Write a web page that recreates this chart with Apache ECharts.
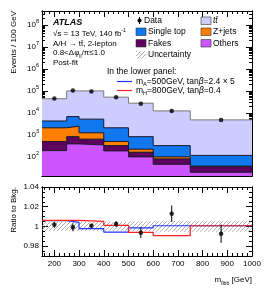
<!DOCTYPE html>
<html><head><meta charset="utf-8">
<script src="https://cdn.jsdelivr.net/npm/echarts@6/dist/echarts.min.js"></script>
<style>html,body{margin:0;padding:0;background:#fff}#c{width:266px;height:291px}</style>
</head><body><div id="c"></div>
<script>
// ---- data ----
const binEdges = [150, 250, 300, 400, 500, 600, 750, 1000];
const ttbar     = [39700, 93200, 94800, 49900, 26800, 12000, 4690];
const singleTop = [2200, 4300, 3950, 1600, 606, 225, 79];
const zjets     = [1600, 1670, 610, 175, 61, 19, 2];
const fakes     = [307, 440, 290, 138, 63, 35, 16];
const others    = [193, 390, 350, 187, 100, 46, 20];
const dataX     = [200, 275, 350, 450, 550, 675, 875];
const dataVals  = [45000, 105000, 95000, 52000, 26000, 12300, 4800];
const ratioData = [1.0017, 0.9991, 1.0007, 1.0024, 0.9936, 1.0129, 0.9926];
const ratioErr  = [0.003, 0.004, 0.002, 0.003, 0.0054, 0.0084, 0.0093];
const uncHalf   = [0.0045, 0.0045, 0.0045, 0.0045, 0.005, 0.0055, 0.0055];
const sigA500   = [1.0058, 1.0042, 0.9977, 0.9943, 0.9985, 1.0007, 1.0007];
const sigH800   = [1.0062, 1.0062, 1.0052, 1.0011, 0.994, 0.9906, 1.0007];
const xMajor = [200, 300, 400, 500, 600, 700, 800, 900, 1000];
const yLogMajor = [1e2, 1e3, 1e4, 1e5, 1e6, 1e7, 1e8];
const ratioMajor = [0.98, 1.0, 1.02, 1.04];

// ---- helpers ----
const FONT = '"Liberation Sans", Arial, "DejaVu Sans", sans-serif';
const xMinor = []; for (let v = 160; v < 1000; v += 20) if (v % 100 !== 0) xMinor.push(v);
const yLogMinor = []; for (let e = 1; e <= 8; e++) for (let m = 2; m <= 9; m++) yLogMinor.push(m * Math.pow(10, e));
const rMinor = []; for (let k = 0; k <= 14; k++) { const v = +(0.97 + k * 0.005).toFixed(3); if (!ratioMajor.some(t => Math.abs(t - v) < 1e-9)) rMinor.push(v); }

function stepData(vals) { return binEdges.map((e, i) => [e, vals[Math.min(i, vals.length - 1)]]); }
function hatchCanvas() {
  const c = document.createElement('canvas'); c.width = 4; c.height = 4;
  const g = c.getContext('2d'); g.strokeStyle = '#8a8a8a'; g.lineWidth = 0.7;
  g.beginPath(); g.moveTo(0, 4); g.lineTo(4, 0); g.moveTo(-1, 1); g.lineTo(1, -1); g.moveTo(3, 5); g.lineTo(5, 3); g.stroke();
  return c;
}
const hatchFill = { image: hatchCanvas(), repeat: 'repeat' };

function xAx(gi, pos, vals, len, labels) {
  return {
    gridIndex: gi, type: 'value', position: pos, min: 150, max: 1000,
    axisLine: { show: true, onZero: false, lineStyle: { color: '#000', width: 1 } },
    splitLine: { show: false },
    axisTick: { show: true, inside: true, length: len, customValues: vals, lineStyle: { color: '#000', width: 1 } },
    axisLabel: labels ? { show: true, customValues: xMajor, color: '#000', fontSize: 8, margin: 4, fontFamily: FONT,
      formatter: v => String(Math.round(v)) } : { show: false }
  };
}
function yLog(pos, vals, len, labels) {
  return {
    gridIndex: 0, type: 'log', logBase: 10, position: pos, min: 13.5, max: 4.3e8,
    axisLine: { show: true, onZero: false, lineStyle: { color: '#000', width: 1 } },
    splitLine: { show: false }, minorSplitLine: { show: false },
    axisTick: { show: true, inside: true, length: len, customValues: vals, lineStyle: { color: '#000', width: 1 } },
    axisLabel: labels ? {
      show: true, customValues: yLogMajor, margin: 3, color: '#000', fontFamily: FONT,
      formatter: v => '{b|10}{s|' + Math.round(Math.log10(v)) + '}',
      rich: { b: { fontSize: 8, fontFamily: FONT, color: '#000', lineHeight: 12 }, s: { fontSize: 5.5, fontFamily: FONT, color: '#000', verticalAlign: 'top', lineHeight: 7 } }
    } : { show: false }
  };
}
function yRat(pos, vals, len, labels) {
  return {
    gridIndex: 1, type: 'value', position: pos, min: 0.97, max: 1.04,
    axisLine: { show: true, onZero: false, lineStyle: { color: '#000', width: 1 } },
    splitLine: { show: false },
    axisTick: { show: true, inside: true, length: len, customValues: vals, lineStyle: { color: '#000', width: 1 } },
    axisLabel: labels ? { show: true, customValues: ratioMajor, margin: 3, color: '#000', fontSize: 8, fontFamily: FONT,
      formatter: v => Math.abs(v - 1) < 1e-9 ? '1' : v.toFixed(2) } : { show: false }
  };
}

// cumulative stack (drawn top-down)
const comps = [
  { vals: others, color: '#cc55ff' },
  { vals: fakes, color: '#5e005e' },
  { vals: zjets, color: '#ff7f00' },
  { vals: singleTop, color: '#1177ee' },
  { vals: ttbar, color: '#ccccff' }
];
let run = new Array(binEdges.length - 1).fill(0);
const cums = comps.map(c => { run = run.map((r, i) => r + c.vals[i]); return run.slice(); });
const stackSeries = [];
for (let k = comps.length - 1; k >= 0; k--) {
  stackSeries.push({
    type: 'line', xAxisIndex: 0, yAxisIndex: 0, step: 'end', symbol: 'none', silent: true,
    data: stepData(cums[k]), z: 10 + (comps.length - k),
    lineStyle: { color: k === comps.length - 1 ? '#777' : '#1a1a2a', width: 1 },
    areaStyle: { color: comps[k].color, opacity: 1, origin: 'start' }
  });
}

const series = stackSeries.concat([
  { type: 'scatter', xAxisIndex: 0, yAxisIndex: 0, data: dataX.map((x, i) => [x, dataVals[i]]), symbolSize: 4.5, itemStyle: { color: '#000' }, z: 30 },
  { type: 'custom', xAxisIndex: 4, yAxisIndex: 4, z: 5, silent: true,
    data: uncHalf.map((h, i) => [binEdges[i], binEdges[i + 1], h]),
    renderItem: (p, api) => {
      const a = api.coord([api.value(0), 1 + api.value(2)]);
      const b = api.coord([api.value(1), 1 - api.value(2)]);
      return { type: 'rect', shape: { x: a[0], y: a[1], width: b[0] - a[0], height: b[1] - a[1] }, style: { fill: hatchFill } };
    } },
  { type: 'line', xAxisIndex: 4, yAxisIndex: 4, step: 'end', symbol: 'none', data: stepData(sigA500), lineStyle: { color: '#2035ff', width: 1.2 }, z: 10 },
  { type: 'line', xAxisIndex: 4, yAxisIndex: 4, step: 'end', symbol: 'none', data: stepData(sigH800), lineStyle: { color: '#ff2020', width: 1.2 }, z: 11 },
  { type: 'custom', xAxisIndex: 4, yAxisIndex: 4, z: 20, silent: true,
    data: dataX.map((x, i) => [x, ratioData[i], ratioErr[i]]),
    renderItem: (p, api) => {
      const a = api.coord([api.value(0), api.value(1) + api.value(2)]);
      const b = api.coord([api.value(0), api.value(1) - api.value(2)]);
      return { type: 'line', shape: { x1: a[0], y1: a[1], x2: b[0], y2: b[1] }, style: { stroke: '#000', lineWidth: 1 } };
    } },
  { type: 'scatter', xAxisIndex: 4, yAxisIndex: 4, data: dataX.map((x, i) => [x, ratioData[i]]), symbolSize: 4.5, itemStyle: { color: '#000' }, z: 30 }
]);

const T = (x, y, text, size, extra) => Object.assign({ type: 'text', x: x, y: y, z: 100,
  style: Object.assign({ text: text, fontSize: size, fontFamily: FONT, fill: '#000', verticalAlign: 'middle', align: 'left' }, extra || {}) });
const richBase = (size) => ({
  n: { fontSize: size, fontFamily: FONT, color: '#000', lineHeight: 12 },
  i: { fontSize: size, fontFamily: FONT, fontStyle: 'italic', color: '#000', lineHeight: 12 },
  sub: { fontSize: size * 0.65, fontFamily: FONT, color: '#000', verticalAlign: 'bottom', lineHeight: 8 },
  sup: { fontSize: size * 0.65, fontFamily: FONT, color: '#000', verticalAlign: 'top', lineHeight: 8 }
});
const sw = (x, y, color, fill) => ({ type: 'rect', z: 100, shape: { x: x, y: y, width: 10, height: 7.5 }, style: { fill: fill || color, stroke: '#333', lineWidth: 0.6 } });

const graphic = [
  T(53, 23, 'ATLAS', 9, { fontWeight: 'bold', fontStyle: 'italic' }),
  T(53, 34, '{n|√s = 13 TeV, 140 fb}{sup|-1}', 8, { rich: richBase(8) }),
  T(53, 44, '{n|A/H → tt̄, 2-lepton}', 8, { rich: richBase(8) }),
  T(53, 53, '{n|0.8<Δφ}{sub|ll}{n|/π≤1.0}', 8, { rich: richBase(8) }),
  T(53, 63, 'Post-fit', 8),
  // legend col 1
  { type: 'circle', z: 100, shape: { cx: 139.5, cy: 20.5, r: 2 }, style: { fill: '#000' } },
  { type: 'line', z: 100, shape: { x1: 139.5, y1: 17, x2: 139.5, y2: 24 }, style: { stroke: '#000', lineWidth: 1 } },
  T(144, 20.5, 'Data', 8.5),
  sw(136, 28, '#1177ee'), T(148, 32, 'Single top', 8.5),
  sw(136, 39.5, '#5e005e'), T(148, 43.5, 'Fakes', 8.5),
  { type: 'rect', z: 100, shape: { x: 136, y: 51, width: 10, height: 7.5 }, style: { fill: hatchFill } },
  T(148, 55, 'Uncertainty', 8.5),
  // legend col 2
  sw(201, 17, '#ccccff'), T(213, 20.5, 'tt̄', 8.5, { fontStyle: 'italic' }),
  sw(201, 28, '#ff7f00'), T(213, 32, 'Z+jets', 8.5),
  sw(201, 39.5, '#cc55ff'), T(213, 43.5, 'Others', 8.5),
  // lower panel legend
  T(107, 71.5, 'In the lower panel:', 8.5),
  { type: 'line', z: 100, shape: { x1: 117, y1: 81.5, x2: 132, y2: 81.5 }, style: { stroke: '#2035ff', lineWidth: 1.2 } },
  T(136, 81.5, '{n|m}{sub|A}{n|=500GeV, tan}{i|β}{n|=2.4 × 5}', 8.5, { rich: richBase(8.5) }),
  { type: 'line', z: 100, shape: { x1: 117, y1: 90.5, x2: 132, y2: 90.5 }, style: { stroke: '#ff2020', lineWidth: 1.2 } },
  T(136, 90.5, '{n|m}{sub|H}{n|=800GeV, tan}{i|β}{n|=0.4}', 8.5, { rich: richBase(8.5) }),
  // axis titles
  T(14, 11, 'Events / 100 GeV', 8, { align: 'right', verticalAlign: 'middle' }),
  T(14, 187, 'Ratio to Bkg.', 8, { align: 'right', verticalAlign: 'middle' }),
  T(252, 280, '{n|m}{sub|llbb}{n| [GeV]}', 8, { align: 'right', rich: richBase(8) })
];
// rotate y titles
graphic[graphic.length - 3].rotation = Math.PI / 2;
graphic[graphic.length - 2].rotation = Math.PI / 2;

const option = {
  animation: false,
  backgroundColor: '#fff',
  grid: [
    { left: 42, top: 11, width: 210, height: 165, containLabel: false },
    { left: 42, top: 187, width: 210, height: 69, containLabel: false }
  ],
  xAxis: [
    xAx(0, 'bottom', xMajor, 6, false), xAx(0, 'bottom', xMinor, 3, false),
    xAx(0, 'top', xMajor, 6, false), xAx(0, 'top', xMinor, 3, false),
    xAx(1, 'bottom', xMajor, 6, true), xAx(1, 'bottom', xMinor, 3, false),
    xAx(1, 'top', xMajor, 6, false), xAx(1, 'top', xMinor, 3, false)
  ],
  yAxis: [
    yLog('left', yLogMajor, 6, true), yLog('left', yLogMinor, 3, false),
    yLog('right', yLogMajor, 6, false), yLog('right', yLogMinor, 3, false),
    yRat('left', ratioMajor, 6, true), yRat('left', rMinor, 3, false),
    yRat('right', ratioMajor, 6, false), yRat('right', rMinor, 3, false)
  ],
  series: series,
  graphic: graphic
};
const chart = echarts.init(document.getElementById('c'));
chart.setOption(option);
</script>
</body></html>
